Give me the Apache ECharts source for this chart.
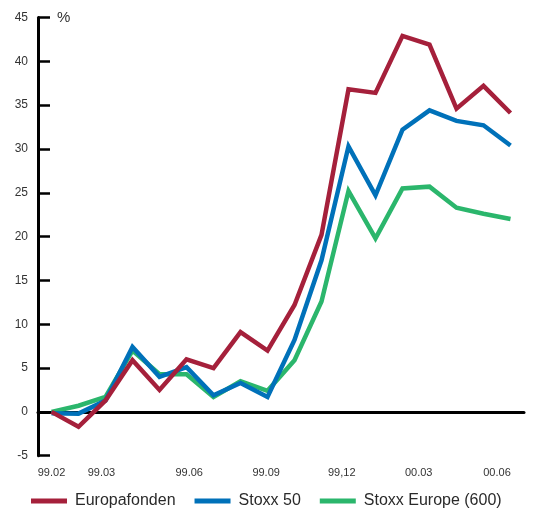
<!DOCTYPE html>
<html>
<head>
<meta charset="utf-8">
<script src="https://cdn.jsdelivr.net/npm/echarts@6/dist/echarts.min.js"></script>
<style>
  html, body { margin: 0; padding: 0; background: #fff; }
  #chart { width: 553px; height: 510px; }
</style>
</head>
<body>
<div id="chart"></div>
<script>
// Monthly return index, percent, from start of 1999
const periods = 18;
const europafonden = [0, -1.7, 1.3, 5.9, 2.5, 6.0, 5.0, 9.1, 7.0, 12.2, 20.2, 36.8, 36.4, 42.9, 41.9, 34.6, 37.2, 34.1];
const stoxx50 = [-0.15, -0.2, 1.3, 7.4, 4.0, 5.1, 1.9, 3.3, 1.7, 8.2, 17.3, 30.3, 24.7, 32.2, 34.4, 33.2, 32.7, 30.4];
const stoxxEurope600 = [0, 0.7, 1.7, 7.0, 4.3, 4.3, 1.7, 3.5, 2.4, 5.9, 12.6, 25.2, 19.8, 25.5, 25.7, 23.3, 22.6, 22.0];

// Date labels along the time axis and where they sit on it
const dateLabels = ['99.02', '99.03', '99.06', '99.09', '99,12', '00.03', '00.06'];
const dateLabelAt = [0, 1.85, 5.1, 7.95, 10.75, 13.6, 16.5];

const names = ['Europafonden', 'Stoxx 50', 'Stoxx Europe (600)'];
const colors = ['#a5203b', '#0071b9', '#2bb66c'];

const toPoints = arr => arr.map((v, i) => [i, v]);
const labelFor = {};
dateLabelAt.forEach((p, i) => { labelFor[p] = dateLabels[i]; });

const font = '"Liberation Sans", Arial, sans-serif';

function lineSeries(name, values, color, z) {
  return {
    name: name,
    type: 'line',
    xAxisIndex: 0,
    data: toPoints(values),
    symbol: 'none',
    z: z,
    lineStyle: { color: color, width: 4.5, join: 'miter' },
    itemStyle: { color: color }
  };
}

const chart = echarts.init(document.getElementById('chart'), null, { renderer: 'canvas' });
chart.setOption({
  animation: false,
  backgroundColor: '#fff',
  grid: { left: 38, right: 29, top: 17.5, bottom: 54.3 },
  legend: {
    data: names,
    left: 26,
    top: 488,
    icon: 'rect',
    itemWidth: 36,
    itemHeight: 5,
    itemGap: 19,
    textStyle: { fontFamily: font, fontSize: 16, color: '#2a2a2a', padding: [0, 0, 0, 3] }
  },
  xAxis: [
    {
      type: 'value',
      min: -0.5,
      max: periods - 0.5,
      axisLine: { show: false, onZero: false },
      axisTick: { show: false },
      splitLine: { show: false },
      axisLabel: {
        customValues: dateLabelAt,
        formatter: v => labelFor[v] || '',
        margin: 12,
        fontFamily: font,
        fontSize: 11,
        color: '#333'
      }
    },
    {
      type: 'value',
      min: -0.5,
      max: periods - 0.5,
      axisLine: { show: true, onZero: true, lineStyle: { color: '#000', width: 3 } },
      axisTick: { show: false },
      axisLabel: { show: false },
      splitLine: { show: false }
    }
  ],
  yAxis: {
    type: 'value',
    min: -5,
    max: 45,
    interval: 5,
    name: '%',
    nameLocation: 'end',
    nameGap: 0,
    nameTextStyle: {
      fontFamily: font, fontSize: 15, color: '#333',
      align: 'left', verticalAlign: 'middle', padding: [0, 0, 0, 19]
    },
    axisLine: { show: true, onZero: false, lineStyle: { color: '#000', width: 3 } },
    axisTick: { show: true, inside: true, length: 12, lineStyle: { color: '#000', width: 2.5 } },
    splitLine: { show: false },
    axisLabel: { margin: 10, fontFamily: font, fontSize: 12, color: '#333' }
  },
  series: [
    lineSeries(names[2], stoxxEurope600, colors[2], 2),
    lineSeries(names[1], stoxx50, colors[1], 3),
    lineSeries(names[0], europafonden, colors[0], 4)
  ]
});
</script>
</body>
</html>
